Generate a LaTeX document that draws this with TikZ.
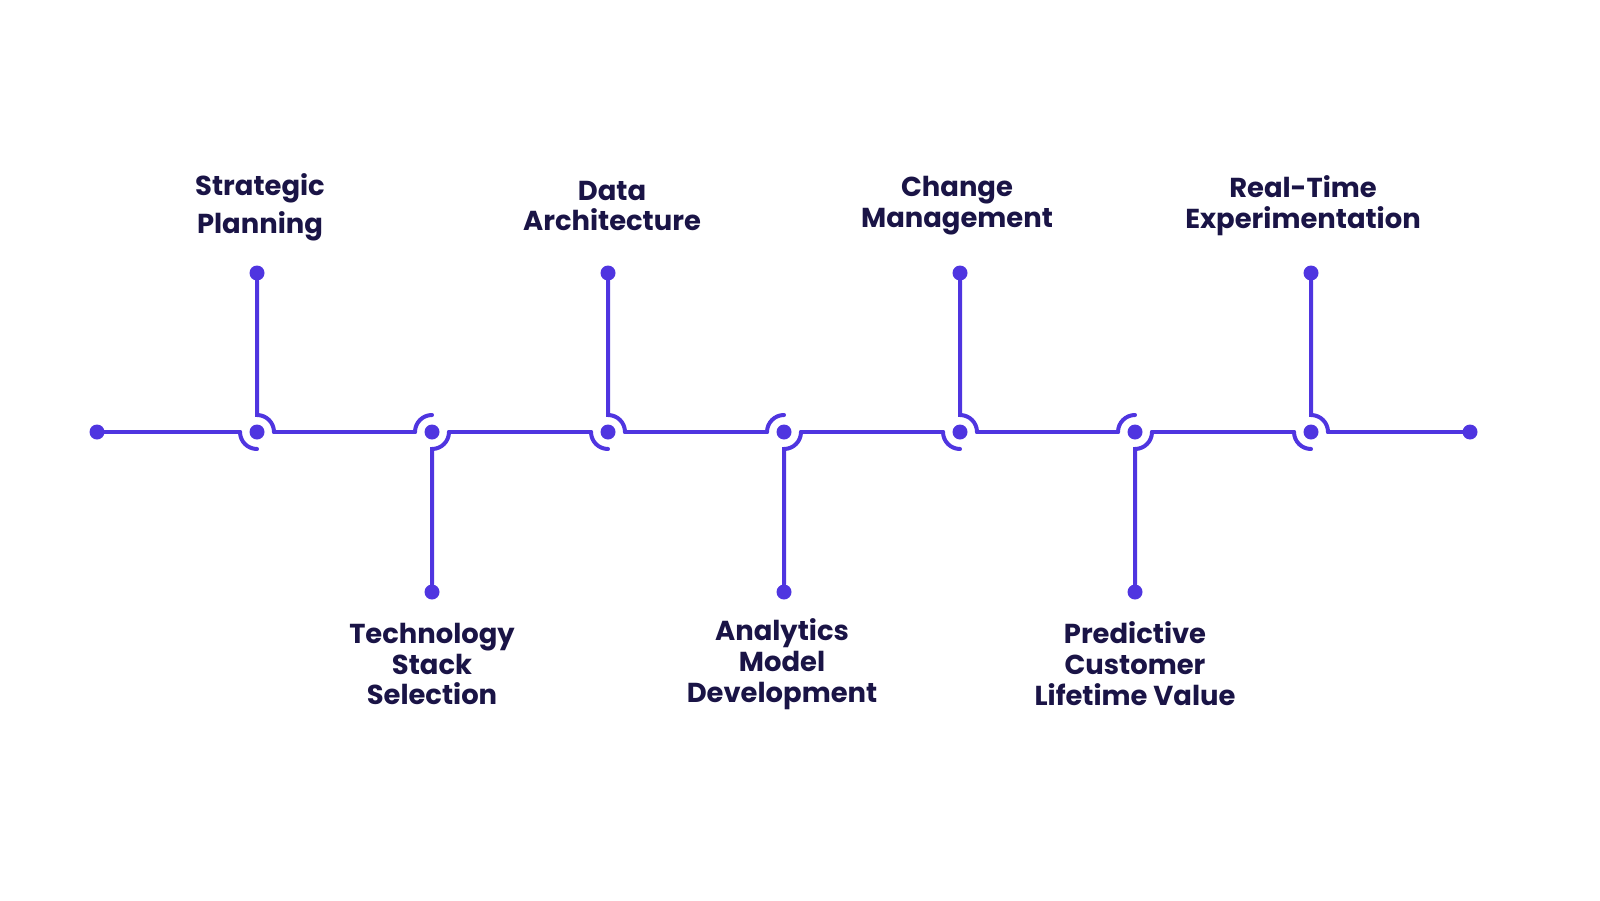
\documentclass[tikz,border=0pt]{standalone}
\usepackage{fontspec}
\setmainfont{Poppins}
\begin{document}
\begin{tikzpicture}[x=1bp,y=-1bp,
  ln/.style={draw=lc,line width=4bp,line cap=round},
  dotn/.style={circle,fill=lc,inner sep=0pt,minimum size=15bp},
  lbl/.style={text=tc,font=\bfseries\fontsize{27.5}{31}\selectfont,align=center}]
\definecolor{lc}{HTML}{4F35E0}
\definecolor{tc}{HTML}{1A1446}
\useasboundingbox (0,0) rectangle (1600,900);
\def\r{17}
\node[dotn] (s) at (97,432) {};
\node[dotn] (e) at (1470,432) {};
\foreach \x/\n in {257/1,608/3,960/5,1311/7}{
  \node[dotn] (j\n) at (\x,432) {};
  \node[dotn] (t\n) at (\x,273) {};
}
\foreach \x/\n in {432/2,784/4,1135/6}{
  \node[dotn] (j\n) at (\x,432) {};
  \node[dotn] (t\n) at (\x,592) {};
}
% up junctions
\foreach \n in {1,3,5,7}{
  \draw[ln] (t\n) -- ([yshift=\r bp]j\n.center) arc[start angle=-90,end angle=0,radius=\r];
  \draw[ln] ([xshift=-\r bp]j\n.center) arc[start angle=180,end angle=90,radius=\r];
}
% down junctions
\foreach \n in {2,4,6}{
  \draw[ln] ([xshift=-\r bp]j\n.center) arc[start angle=180,end angle=270,radius=\r];
  \draw[ln] ([xshift=\r bp]j\n.center) arc[start angle=0,end angle=90,radius=\r] -- (t\n);
}
\draw[ln] (s.center) -- ([xshift=-\r bp]j1.center);
\foreach \a/\b in {1/2,2/3,3/4,4/5,5/6,6/7}{
  \draw[ln] ([xshift=\r bp]j\a.center) -- ([xshift=-\r bp]j\b.center);
}
\draw[ln] ([xshift=\r bp]j7.center) -- (e.center);
\node[lbl,font=\bfseries\fontsize{27.5}{38}\selectfont] (l1) at (260,207) {Strategic\\Planning};
\node[lbl] (l3) at (612,206) {Data\\Architecture};
\node[lbl] (l5) at (957,206) {Change\\Management};
\node[lbl] (l7) at (1303,206) {Real-Time\\Experimentation};
\node[lbl] (l2) at (432,664) {Technology\\Stack\\Selection};
\node[lbl] (l4) at (782,664) {Analytics\\Model\\Development};
\node[lbl] (l6) at (1135,664) {Predictive\\Customer\\Lifetime Value};
\end{tikzpicture}
\end{document}
